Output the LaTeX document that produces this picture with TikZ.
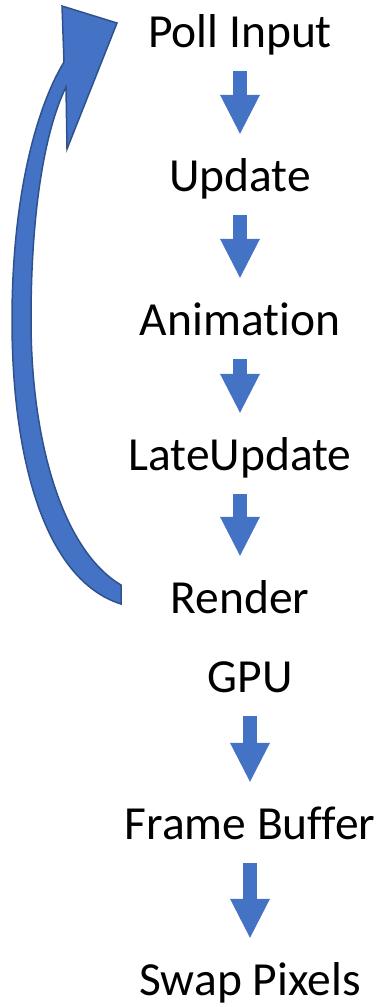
\documentclass[tikz,border=0pt]{standalone}
\usepackage{fontspec}
\setmainfont{Carlito}[Ligatures=NoCommon]
\usetikzlibrary{arrows.meta}
\definecolor{ppblue}{HTML}{4472C4}
\definecolor{ppedge}{HTML}{2F528F}

\begin{document}
\begin{tikzpicture}[x=1pt,y=-1pt,stage/.style={anchor=base,inner sep=0pt,text height=30pt,text depth=0pt,font=\fontsize{47.5}{57}\selectfont},block/.style={draw=ppblue,line width=13.5pt,-{Triangle[width=40pt,length=39pt,line width=0pt]},shorten <=24pt,shorten >=27pt}]
\def\xa{240};
\def\xb{250};

\useasboundingbox (0,0) rectangle (383,1007);

\node[stage] (poll) at (\xa,47) {Poll Input};
\node[stage] (update) at (\xa,191) {Update};
\node[stage] (anim) at (\xa,335) {Animation};
\node[stage] (late) at (\xa,470) {LateUpdate};
\node[stage] (render) at (\xa,613) {Render};
\node[stage] (gpu) at (\xb,692) {GPU};
\node[stage] (fbuf) at (\xb,839) {Frame Buffer};
\node[stage] (swap) at (\xb,995) {Swap Pixels};

\draw[block] (poll.south) -- (update.north);
\draw[block] (update.south) -- (anim.north);
\draw[block] (anim.south) -- (late.north);
\draw[block] (late.south) -- (render.north);
\draw[block] (gpu.south) -- (fbuf.north);
\draw[block] (fbuf.south) -- (swap.north);

\filldraw[fill=ppblue,draw=ppedge,line width=1.5pt,line join=miter] (121,604) .. controls (45,580) and (12,460) .. (12,320) .. controls (12,200) and (35,110) .. (64,62) -- (62,6) -- (117,23) -- (67,149) -- (66,87) .. controls (45,130) and (31,210) .. (31,320) .. controls (31,440) and (62,550) .. (121,585) -- cycle;
\end{tikzpicture}
\end{document}
